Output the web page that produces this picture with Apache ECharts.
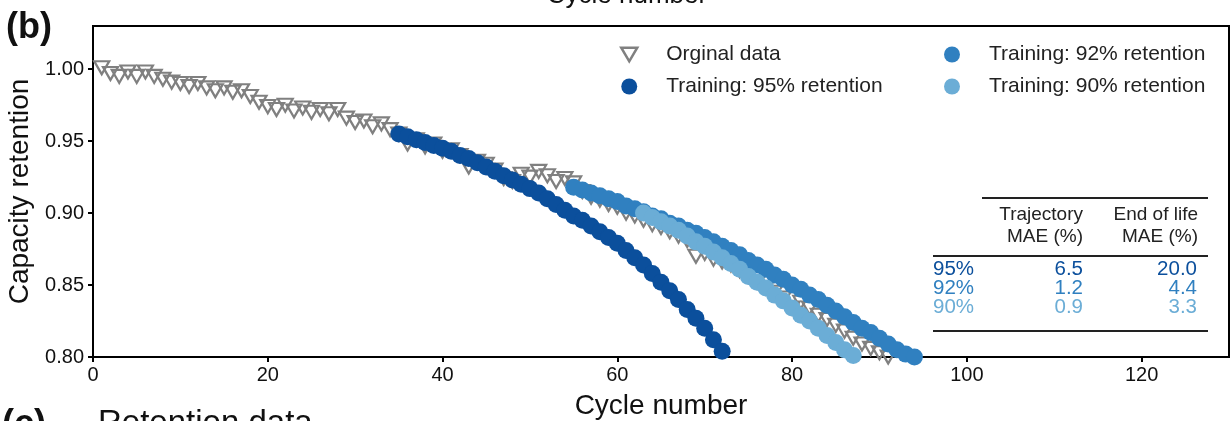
<!DOCTYPE html>
<html>
<head>
<meta charset="utf-8">
<script src="https://cdn.jsdelivr.net/npm/echarts@6/dist/echarts.min.js"></script>
<style>
  html, body { margin: 0; padding: 0; background: #fff; }
  #chart { width: 1231px; height: 421px; }
</style>
</head>
<body>
<div id="chart"></div>
<script>
// measured capacity retention, one point per cycle starting at cycle 1
const origStart = 1;
const origValues = [
  1.001, 0.997, 0.995, 0.998, 0.995, 0.998, 0.995, 0.993, 0.991, 0.990,
  0.988, 0.990, 0.987, 0.985, 0.987, 0.984, 0.985, 0.981, 0.977, 0.974,
  0.972, 0.975, 0.971, 0.973, 0.970, 0.972, 0.969, 0.972, 0.966, 0.963,
  0.964, 0.960, 0.962, 0.958, 0.955, 0.948, 0.951, 0.946, 0.948, 0.943,
  0.944, 0.940, 0.932, 0.936, 0.934, 0.930, 0.924, 0.922, 0.927, 0.925,
  0.929, 0.926, 0.922, 0.924, 0.921, 0.915, 0.911, 0.909, 0.906, 0.904,
  0.900, 0.898, 0.895, 0.892, 0.890, 0.887, 0.884, 0.881, 0.870, 0.872,
  0.868, 0.866, 0.864, 0.860, 0.856, 0.852, 0.848, 0.845, 0.841, 0.834,
  0.838, 0.834, 0.829, 0.826, 0.822, 0.818, 0.813, 0.809, 0.806, 0.803,
  0.800
];

// predicted trajectories
const train95Start = 35;
const train95Values = [
  0.955, 0.953, 0.951, 0.949, 0.947, 0.945, 0.943, 0.940, 0.938, 0.935,
  0.932, 0.929, 0.926, 0.923, 0.920, 0.917, 0.914, 0.910, 0.906, 0.902,
  0.898, 0.895, 0.891, 0.887, 0.883, 0.879, 0.874, 0.869, 0.864, 0.858,
  0.852, 0.846, 0.840, 0.833, 0.827, 0.820, 0.812, 0.804
];
const train92Start = 55;
const train92Values = [
  0.918, 0.916, 0.914, 0.912, 0.910, 0.908, 0.905, 0.903, 0.901, 0.898,
  0.896, 0.893, 0.891, 0.888, 0.886, 0.883, 0.880, 0.877, 0.874, 0.871,
  0.867, 0.864, 0.861, 0.857, 0.854, 0.850, 0.847, 0.843, 0.840, 0.836,
  0.832, 0.828, 0.824, 0.820, 0.817, 0.813, 0.809, 0.805, 0.802, 0.800
];
const train90Start = 63;
const train90Values = [
  0.900, 0.897, 0.894, 0.891, 0.888, 0.884, 0.880, 0.877, 0.873, 0.869,
  0.865, 0.861, 0.856, 0.852, 0.848, 0.843, 0.839, 0.834, 0.829, 0.825,
  0.820, 0.815, 0.810, 0.805, 0.801
];

const xTicks = [0, 20, 40, 60, 80, 100, 120];
const yTicks = [0.80, 0.85, 0.90, 0.95, 1.00];

// inset table
const tableHeader1 = ['Trajectory', 'MAE (%)'];
const tableHeader2 = ['End of life', 'MAE (%)'];
const tableRowNames = ['95%', '92%', '90%'];
const tableTrajMae = ['6.5', '1.2', '0.9'];
const tableEolMae = ['20.0', '4.4', '3.3'];

const names = ['Orginal data', 'Training: 95% retention', 'Training: 92% retention', 'Training: 90% retention'];
const colors = ['#808080', '#0b4f9c', '#3080c0', '#6badd6'];
const FONT = '"Liberation Sans", Arial, sans-serif';
const downTri = 'path://M0,0L14,0L7,12Z';

const toPts = (start, vals) => vals.map((v, i) => [start + i, v]);

const chart = echarts.init(document.getElementById('chart'));

const tableGraphics = [];
const rowY = [269, 288, 307];
const lineStyle = { stroke: '#222', lineWidth: 1.8 };
tableGraphics.push({ type: 'line', shape: { x1: 982, y1: 198, x2: 1208, y2: 198 }, style: lineStyle });
tableGraphics.push({ type: 'line', shape: { x1: 933, y1: 256, x2: 1208, y2: 256 }, style: lineStyle });
tableGraphics.push({ type: 'line', shape: { x1: 933, y1: 331, x2: 1208, y2: 331 }, style: lineStyle });
[[tableHeader1, 1083], [tableHeader2, 1198]].forEach(([h, x]) => {
  h.forEach((t, j) => {
    tableGraphics.push({ type: 'text', style: { text: t, x: x, y: 215 + j * 22, textAlign: 'right', textVerticalAlign: 'middle', font: '19px ' + FONT, fill: '#222' } });
  });
});
tableRowNames.forEach((n, i) => {
  const c = colors[i + 1];
  const f = '20.5px ' + FONT;
  tableGraphics.push({ type: 'text', style: { text: n, x: 933, y: rowY[i], textAlign: 'left', textVerticalAlign: 'middle', font: f, fill: c } });
  tableGraphics.push({ type: 'text', style: { text: tableTrajMae[i], x: 1083, y: rowY[i], textAlign: 'right', textVerticalAlign: 'middle', font: f, fill: c } });
  tableGraphics.push({ type: 'text', style: { text: tableEolMae[i], x: 1197, y: rowY[i], textAlign: 'right', textVerticalAlign: 'middle', font: f, fill: c } });
});

const option = {
  animation: false,
  backgroundColor: '#fff',
  grid: {
    left: 93, right: 2, top: 26, bottom: 64, outerBoundsMode: 'none', containLabel: false,
    show: true, borderColor: '#000', borderWidth: 2, backgroundColor: 'transparent'
  },
  xAxis: {
    type: 'value', min: 0, max: 130,
    name: 'Cycle number', nameLocation: 'middle', nameGap: 35,
    nameTextStyle: { fontSize: 28, color: '#111', fontFamily: FONT },
    axisLine: { lineStyle: { color: '#000', width: 2 } },
    axisTick: { show: true, length: 5, customValues: xTicks, lineStyle: { color: '#000', width: 2 } },
    axisLabel: { customValues: xTicks, fontSize: 20, color: '#111', fontFamily: FONT, margin: 8 },
    splitLine: { show: false }
  },
  yAxis: {
    type: 'value', min: 0.8, max: 1.03,
    name: 'Capacity retention', nameLocation: 'middle', nameGap: 57,
    nameTextStyle: { fontSize: 28, color: '#111', fontFamily: FONT },
    axisLine: { show: true, lineStyle: { color: '#000', width: 2 } },
    axisTick: { show: true, length: 5, customValues: yTicks, lineStyle: { color: '#000', width: 2 } },
    axisLabel: { customValues: yTicks, fontSize: 20, color: '#111', fontFamily: FONT, margin: 9, formatter: v => v.toFixed(2) },
    splitLine: { show: false }
  },
  legend: [
    {
      left: 615, top: 39, orient: 'vertical', itemGap: 11, itemWidth: 16, itemHeight: 16,
      data: [
        { name: names[0], icon: downTri, itemStyle: { color: 'transparent', borderColor: colors[0], borderWidth: 2.5, opacity: 1 } },
        { name: names[1], icon: 'circle', itemStyle: { opacity: 1 } }
      ],
      textStyle: { fontSize: 21, color: '#222', fontFamily: FONT, padding: [0, 0, 0, 24] }
    },
    {
      left: 939, top: 39, orient: 'vertical', itemGap: 11, itemWidth: 16, itemHeight: 16,
      data: [
        { name: names[2], icon: 'circle', itemStyle: { opacity: 1 } },
        { name: names[3], icon: 'circle', itemStyle: { opacity: 1 } }
      ],
      textStyle: { fontSize: 21, color: '#222', fontFamily: FONT, padding: [0, 0, 0, 24] }
    }
  ],
  series: [
    {
      name: names[0], type: 'scatter', data: toPts(origStart, origValues),
      symbol: 'triangle', symbolRotate: 180, symbolSize: [15, 13],
      itemStyle: { color: 'transparent', borderColor: colors[0], borderWidth: 2.2, opacity: 1 }
    },
    {
      name: names[1], type: 'scatter', data: toPts(train95Start, train95Values),
      symbol: 'circle', symbolSize: 17, itemStyle: { color: colors[1], opacity: 1 }
    },
    {
      name: names[2], type: 'scatter', data: toPts(train92Start, train92Values),
      symbol: 'circle', symbolSize: 17, itemStyle: { color: colors[2], opacity: 1 }
    },
    {
      name: names[3], type: 'scatter', data: toPts(train90Start, train90Values),
      symbol: 'circle', symbolSize: 17, itemStyle: { color: colors[3], opacity: 1 }
    }
  ],
  graphic: [
    { type: 'text', style: { text: '(b)', x: 6, y: 10, font: 'bold 36px ' + FONT, fill: '#111', textVerticalAlign: 'top' } },
    { type: 'text', style: { text: 'Cycle number', x: 627, y: 9, textAlign: 'center', textVerticalAlign: 'bottom', font: '26px ' + FONT, fill: '#111' } },
    { type: 'text', style: { text: '(c)', x: 2, y: 407, font: 'bold 36px ' + FONT, fill: '#111', textVerticalAlign: 'top' } },
    { type: 'text', style: { text: 'Retention data', x: 98, y: 407, font: '33px ' + FONT, fill: '#111', textVerticalAlign: 'top' } }
  ].concat(tableGraphics)
};

chart.setOption(option);
</script>
</body>
</html>
